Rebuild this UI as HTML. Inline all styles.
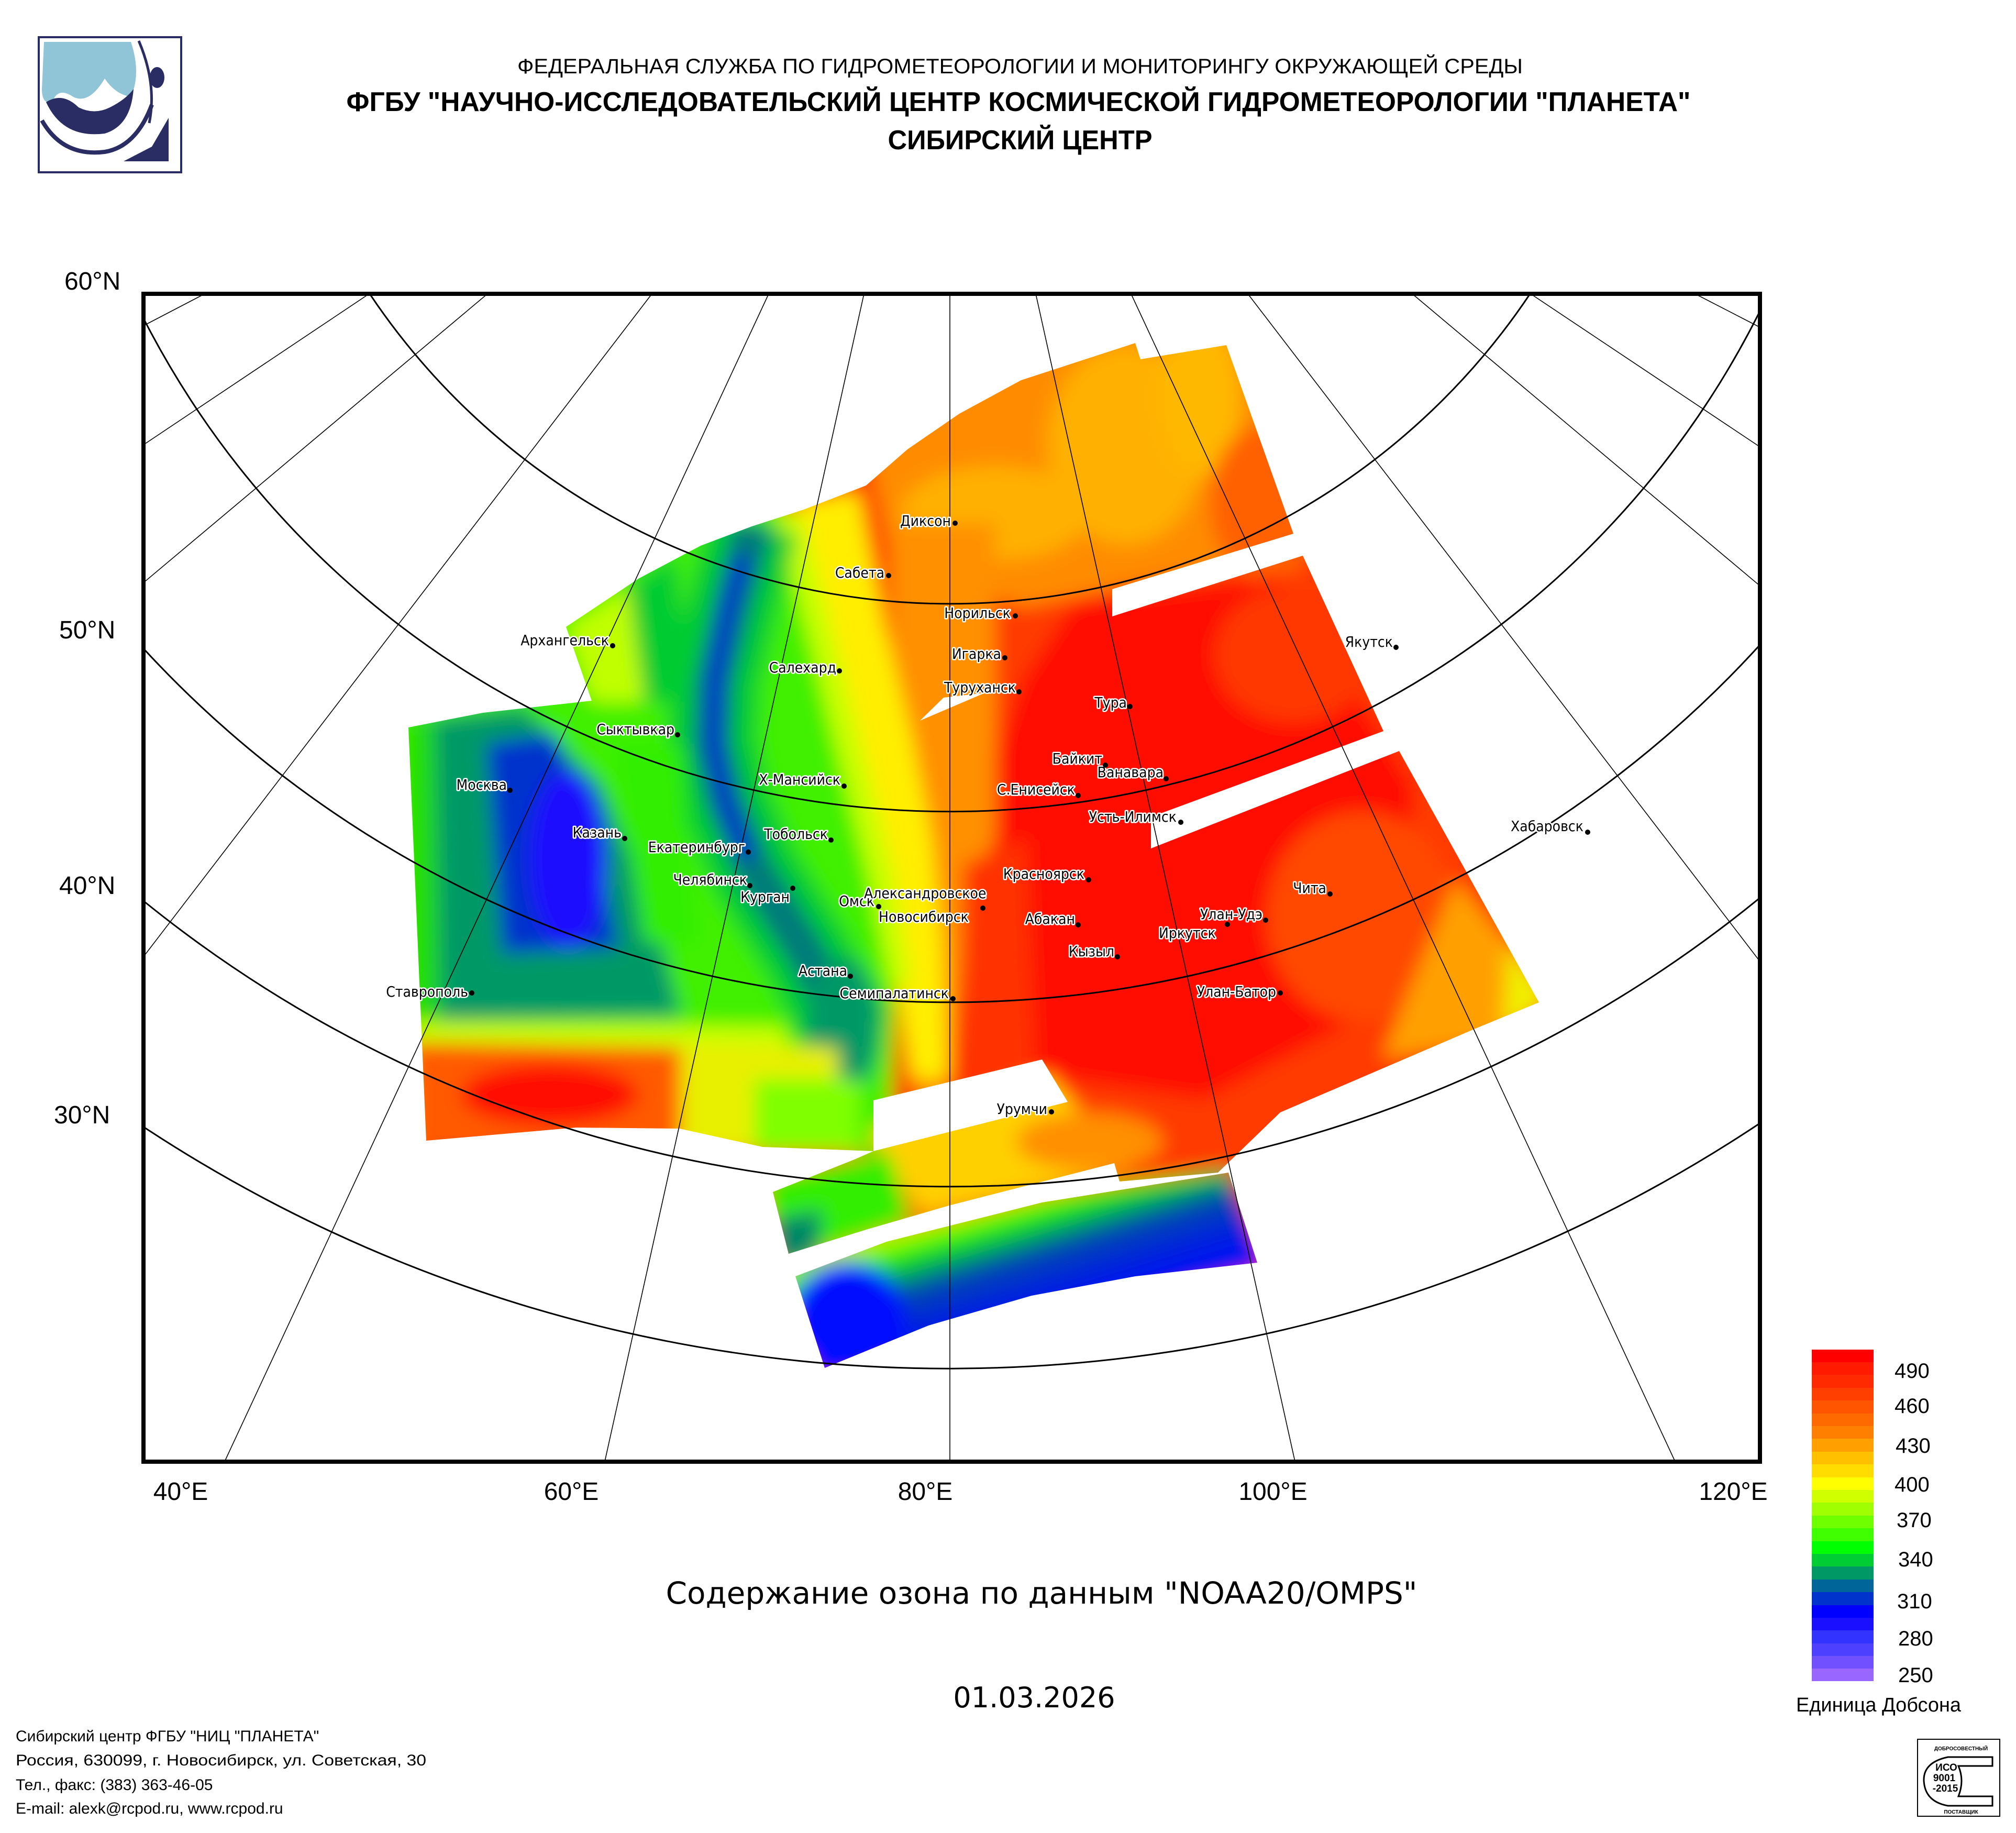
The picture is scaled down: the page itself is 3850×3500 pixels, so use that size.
<!DOCTYPE html>
<html><head><meta charset="utf-8"><style>
html,body{margin:0;padding:0;background:#fff;width:3850px;height:3500px;overflow:hidden;}
svg{display:block;}
.c{font-family:"DejaVu Sans Condensed","DejaVu Sans","Liberation Sans",sans-serif;font-size:28px;fill:#000;stroke:#fff;stroke-width:5px;paint-order:stroke;stroke-linejoin:round;}
.ax{font-family:"Liberation Sans",sans-serif;font-size:48px;fill:#000;}
.cb{font-family:"Liberation Sans",sans-serif;font-size:40px;fill:#000;}
</style></head><body>
<svg width="3850" height="3500" viewBox="0 0 3850 3500" xmlns="http://www.w3.org/2000/svg" overflow="hidden">
<defs>
<clipPath id="frame"><rect x="274" y="561" width="3087" height="2230"/></clipPath>
<clipPath id="sw">
<polygon points="1081,1197 1219,1105 1338,1042 1436,1005 1535,973 1654,927 1733,858 1832,790 1950,726 2168,655 2178,686 2342,659 2470,1019 2124,1125 2124,1500 1130,1500 1130,1338"/>
<polygon points="2124,1177 2488,1061 2642,1396 2198,1560 2124,1560"/>
<polygon points="780,1389 922,1361 1130,1338 2124,1338 2124,1560 2198,1560 2198,1620 2672,1434 2939,1914 2820,1963 2445,2124 2326,2239 2138,2256 2128,2221 1812,2302 1654,2348 1506,2394 1476,2276 1634,2213 1668,2198 1456,2190 1298,2155 1100,2153 814,2178"/>
<polygon points="1519,2437 1693,2371 1990,2296 2346,2239 2401,2411 2168,2437 1970,2474 1773,2531 1575,2612"/>
</clipPath>
<filter id="bl" x="-10%" y="-10%" width="120%" height="120%"><feGaussianBlur stdDeviation="18"/></filter>
<linearGradient id="lg" gradientUnits="userSpaceOnUse" x1="1990" y1="2285" x2="2060" y2="2520">
<stop offset="0" stop-color="#b0ff00"/><stop offset="0.13" stop-color="#20f000"/><stop offset="0.27" stop-color="#00b050"/><stop offset="0.42" stop-color="#0048b0"/><stop offset="0.7" stop-color="#0020e0"/><stop offset="1" stop-color="#0008ff"/>
</linearGradient>
</defs>

<!-- logo -->
<rect x="74" y="71" width="272" height="258" fill="#fff" stroke="#2a2d63" stroke-width="4"/>
<path d="M84,80 L250,80 Q270,140 250,185 Q220,180 200,150 Q170,200 140,185 Q110,165 100,195 Q80,200 80,170 Z" fill="#8fc5d6"/>
<path d="M88,195 Q120,175 150,205 Q180,220 210,205 Q240,190 255,170 Q250,240 200,255 Q120,265 88,195 Z" fill="#2a2d63"/>
<path d="M80,230 Q120,300 200,290 Q260,280 290,200" fill="none" stroke="#2a2d63" stroke-width="8"/>
<path d="M265,78 Q300,160 285,235" fill="none" stroke="#2a2d63" stroke-width="5"/>
<ellipse cx="300" cy="148" rx="14" ry="20" fill="#2a2d63"/>
<polygon points="322,225 322,308 236,308 290,280" fill="#2a2d63"/>

<!-- header -->
<text x="1948" y="140" text-anchor="middle" font-family="Liberation Sans,sans-serif" font-size="40" textLength="1920" lengthAdjust="spacingAndGlyphs">ФЕДЕРАЛЬНАЯ СЛУЖБА ПО ГИДРОМЕТЕОРОЛОГИИ И МОНИТОРИНГУ ОКРУЖАЮЩЕЙ СРЕДЫ</text>
<text x="1945" y="212" text-anchor="middle" font-family="Liberation Sans,sans-serif" font-size="52" font-weight="bold" textLength="2567" lengthAdjust="spacingAndGlyphs">ФГБУ "НАУЧНО-ИССЛЕДОВАТЕЛЬСКИЙ ЦЕНТР КОСМИЧЕСКОЙ ГИДРОМЕТЕОРОЛОГИИ "ПЛАНЕТА"</text>
<text x="1948" y="285" text-anchor="middle" font-family="Liberation Sans,sans-serif" font-size="52" font-weight="bold" textLength="505" lengthAdjust="spacingAndGlyphs">СИБИРСКИЙ ЦЕНТР</text>

<!-- swaths -->
<g clip-path="url(#frame)">
<g clip-path="url(#sw)">
<g filter="url(#bl)">
<rect x="700" y="550" width="2300" height="2100" fill="#ff3a00"/>
<polygon points="1600,600 2500,600 2500,1050 1950,1160 1700,1050" fill="#ff8c00"/>
<ellipse cx="2150" cy="850" rx="150" ry="190" fill="#ffb000"/>
<ellipse cx="2290" cy="760" rx="80" ry="150" fill="#ffb800"/>
<ellipse cx="1900" cy="980" rx="180" ry="90" fill="#ffb000"/>
<ellipse cx="2420" cy="960" rx="110" ry="150" fill="#ff6000"/>
<polygon points="2050,1150 2450,1100 2700,1500 2680,1900 2300,2100 1950,2050 1850,1600 1950,1300" fill="#ff0800"/>
<ellipse cx="2470" cy="1250" rx="150" ry="130" fill="#ff3800"/>
<ellipse cx="2600" cy="1750" rx="180" ry="200" fill="#ff4a00"/>
<polygon points="2780,1680 2960,1900 2840,1990 2640,2020" fill="#ffa000"/>
<polygon points="2880,1800 2960,1910 2870,1975" fill="#f0f000"/>
<polygon points="1700,1000 1900,1000 1900,1600 1850,1700 1800,2200 1760,2200 1700,1600" fill="#ff9000"/>
<polygon points="1840,1650 1960,1600 1980,2120 1830,2120" fill="#ff3000"/>
<polygon points="1520,960 1640,940 1690,1200 1740,1400 1780,1600 1800,1800 1810,2060 1740,2060 1700,1800 1660,1620 1620,1420 1570,1240" fill="#ffee00"/>
<polygon points="700,980 1500,960 1560,1240 1610,1440 1670,1680 1710,1880 1700,2200 700,2200" fill="#40f000"/>
<polygon points="1480,980 1530,980 1600,1240 1650,1440 1710,1680 1740,1880 1700,1880 1660,1680 1600,1440 1550,1240" fill="#c8ff00"/>
<polyline points="1440,1000 1400,1150 1365,1300 1360,1420 1385,1530 1440,1660 1540,1820 1620,1980" fill="none" stroke="#00cc33" stroke-width="170"/>
<polyline points="1440,1000 1400,1150 1365,1300 1360,1420 1385,1530 1440,1660 1540,1820 1620,1980" fill="none" stroke="#007a7a" stroke-width="75"/>
<polyline points="1420,1060 1390,1170 1365,1300 1362,1420 1385,1530 1430,1640" fill="none" stroke="#0033cc" stroke-width="34"/>
<ellipse cx="1610" cy="1960" rx="70" ry="130" fill="#009966"/>
<polygon points="1081,1197 1200,1120 1230,1340 1130,1340" fill="#c0ff00"/>
<polygon points="1200,1120 1290,1060 1320,1340 1230,1340" fill="#00cc33"/>
<polygon points="780,1380 1000,1350 1150,1500 1250,1750 1300,1940 780,1950" fill="#009966"/>
<polygon points="780,1380 830,1380 840,1960 780,1960" fill="#22dd00"/>
<polygon points="930,1420 1060,1400 1140,1600 1180,1810 960,1820" fill="#0033cc"/>
<ellipse cx="1085" cy="1640" rx="75" ry="170" fill="#1a10ff"/>
<polygon points="1170,1420 1300,1420 1330,1800 1230,1800" fill="#33ee00"/>
<polygon points="780,1950 1500,1960 1500,2040 780,2020" fill="#c8ff00"/>
<polygon points="780,1990 1320,2000 1320,2200 780,2200" fill="#ff5a00"/>
<ellipse cx="1050" cy="2090" rx="170" ry="60" fill="#ff1000"/>
<polygon points="1300,1990 1600,2000 1600,2200 1300,2200" fill="#e8f000"/>
<polygon points="1440,2060 1640,2060 1640,2200 1440,2200" fill="#80ff00"/>
<polygon points="1660,2160 2000,2050 2160,2230 1760,2320" fill="#ffd000"/>
<ellipse cx="2080" cy="2180" rx="140" ry="55" fill="#ff9000"/>
<polygon points="1460,2250 1700,2200 1740,2330 1480,2420" fill="#33ee00"/>
<polygon points="1470,2330 1570,2310 1560,2410 1480,2420" fill="#008866"/>
<polygon points="1480,2430 1680,2360 1990,2285 2346,2230 2420,2420 1560,2640" fill="url(#lg)"/>
<ellipse cx="1620" cy="2520" rx="110" ry="110" fill="#0010ff"/>
</g>
</g>
<!-- white holes -->
<polygon points="1668,2101 1990,2023 2039,2104 1668,2198" fill="#fff"/>
<polygon points="1757,1376 1802,1332 1881,1323" fill="#fff"/>

<!-- graticule -->
<g stroke="#000" fill="none">
<path d="M706,561 A1333,1333 0 0 0 2922,561" stroke-width="3"/>
<path d="M270,600 A1730,1730 0 0 0 3365,586" stroke-width="3"/>
<path d="M270,1234 A2094,2094 0 0 0 3365,1227" stroke-width="3"/>
<path d="M270,1717 A2446,2446 0 0 0 3365,1711" stroke-width="3"/>
<path d="M270,2149 A2794,2794 0 0 0 3365,2142" stroke-width="3"/>
<g stroke-width="1.6">
<line x1="1814" y1="561" x2="1814" y2="2795"/>
<line x1="1650" y1="561" x2="1154" y2="2795"/>
<line x1="1978" y1="561" x2="2474" y2="2795"/>
<line x1="1468" y1="561" x2="427" y2="2795"/>
<line x1="2160" y1="561" x2="3201" y2="2795"/>
<line x1="1245" y1="561" x2="270" y2="1832"/>
<line x1="2383" y1="561" x2="3365" y2="1841"/>
<line x1="931" y1="561" x2="270" y2="1116"/>
<line x1="2697" y1="561" x2="3365" y2="1122"/>
<line x1="705" y1="561" x2="270" y2="852"/>
<line x1="2923" y1="561" x2="3365" y2="856"/>
<line x1="391" y1="561" x2="270" y2="624"/>
<line x1="3237" y1="561" x2="3365" y2="627"/>
</g>
</g>

<!-- cities -->
<g class="c" text-anchor="end">
<text x="1816" y="1004">Диксон</text>
<text x="1689" y="1103">Сабета</text>
<text x="1930" y="1180">Норильск</text>
<text x="1912" y="1258">Игарка</text>
<text x="1597" y="1284">Салехард</text>
<text x="1940" y="1322">Туруханск</text>
<text x="2152" y="1351">Тура</text>
<text x="1163" y="1232">Архангельск</text>
<text x="2660" y="1235">Якутск</text>
<text x="1288" y="1402">Сыктывкар</text>
<text x="2105" y="1458">Байкит</text>
<text x="2222" y="1484">Ванавара</text>
<text x="2053" y="1517">С.Енисейск</text>
<text x="1605" y="1498">Х-Мансийск</text>
<text x="2247" y="1569">Усть-Илимск</text>
<text x="968" y="1508">Москва</text>
<text x="1187" y="1599">Казань</text>
<text x="1423" y="1627">Екатеринбург</text>
<text x="1581" y="1602">Тобольск</text>
<text x="3024" y="1587">Хабаровск</text>
<text x="2071" y="1678">Красноярск</text>
<text x="1427" y="1689">Челябинск</text>
<text x="1508" y="1722">Курган</text>
<text x="1670" y="1730">Омск</text>
<text x="2053" y="1764">Абакан</text>
<text x="2411" y="1755">Улан-Удэ</text>
<text x="2533" y="1705">Чита</text>
<text x="2128" y="1826">Кызыл</text>
<text x="1618" y="1863">Астана</text>
<text x="1812" y="1906">Семипалатинск</text>
<text x="2437" y="1903">Улан-Батор</text>
<text x="894" y="1903">Ставрополь</text>
<text x="2000" y="2127">Урумчи</text>
</g>
<g class="c">
<text x="1650" y="1715">Александровское</text>
<text x="1678" y="1760">Новосибирск</text>
<text x="2213" y="1791">Иркутск</text>
</g>
<g fill="#000">
<circle cx="1824" cy="999" r="5"/><circle cx="1697" cy="1099" r="5"/><circle cx="1939" cy="1176" r="5"/>
<circle cx="1919" cy="1256" r="5"/><circle cx="1603" cy="1281" r="5"/><circle cx="1946" cy="1321" r="5"/>
<circle cx="2158" cy="1349" r="5"/><circle cx="1170" cy="1233" r="5"/><circle cx="2666" cy="1236" r="5"/>
<circle cx="1294" cy="1403" r="5"/><circle cx="2111" cy="1461" r="5"/><circle cx="2227" cy="1487" r="5"/>
<circle cx="2059" cy="1519" r="5"/><circle cx="1612" cy="1501" r="5"/><circle cx="2255" cy="1570" r="5"/>
<circle cx="974" cy="1509" r="5"/><circle cx="1193" cy="1601" r="5"/><circle cx="1429" cy="1627" r="5"/>
<circle cx="1587" cy="1604" r="5"/><circle cx="3032" cy="1589" r="5"/><circle cx="2079" cy="1680" r="5"/>
<circle cx="1432" cy="1691" r="5"/><circle cx="1514" cy="1696" r="5"/><circle cx="1678" cy="1731" r="5"/>
<circle cx="1877" cy="1734" r="5"/><circle cx="2059" cy="1766" r="5"/><circle cx="2417" cy="1757" r="5"/>
<circle cx="2540" cy="1707" r="5"/><circle cx="2134" cy="1827" r="5"/><circle cx="1624" cy="1864" r="5"/>
<circle cx="1820" cy="1907" r="5"/><circle cx="2445" cy="1896" r="5"/><circle cx="901" cy="1896" r="5"/>
<circle cx="2344" cy="1765" r="5"/><circle cx="2008" cy="2123" r="5"/>
</g>
</g>
<rect x="274" y="561" width="3087" height="2230" fill="none" stroke="#000" stroke-width="8"/>

<!-- axis labels -->
<g class="ax">
<text x="123" y="553">60°N</text>
<text x="113" y="1219">50°N</text>
<text x="113" y="1707">40°N</text>
<text x="103" y="2145">30°N</text>
<text x="345" y="2864" text-anchor="middle">40°E</text>
<text x="1091" y="2864" text-anchor="middle">60°E</text>
<text x="1767" y="2864" text-anchor="middle">80°E</text>
<text x="2431" y="2864" text-anchor="middle">100°E</text>
<text x="3310" y="2864" text-anchor="middle">120°E</text>
</g>

<!-- colorbar -->
<g>
<rect x="3460" y="2577" width="118" height="25" fill="#ff0000"/>
<rect x="3460" y="2601" width="118" height="25" fill="#ff1a00"/>
<rect x="3460" y="2625" width="118" height="25" fill="#ff2a00"/>
<rect x="3460" y="2650" width="118" height="25" fill="#ff3f00"/>
<rect x="3460" y="2674" width="118" height="25" fill="#ff5500"/>
<rect x="3460" y="2699" width="118" height="25" fill="#ff6a00"/>
<rect x="3460" y="2723" width="118" height="25" fill="#ff8000"/>
<rect x="3460" y="2747" width="118" height="25" fill="#ffa000"/>
<rect x="3460" y="2772" width="118" height="25" fill="#ffc000"/>
<rect x="3460" y="2796" width="118" height="25" fill="#ffdd00"/>
<rect x="3460" y="2821" width="118" height="25" fill="#ffff00"/>
<rect x="3460" y="2845" width="118" height="25" fill="#d0ff00"/>
<rect x="3460" y="2869" width="118" height="25" fill="#a0ff00"/>
<rect x="3460" y="2894" width="118" height="25" fill="#70ff00"/>
<rect x="3460" y="2918" width="118" height="25" fill="#40ff00"/>
<rect x="3460" y="2943" width="118" height="25" fill="#00ff00"/>
<rect x="3460" y="2967" width="118" height="25" fill="#00cc33"/>
<rect x="3460" y="2991" width="118" height="25" fill="#009966"/>
<rect x="3460" y="3016" width="118" height="25" fill="#006699"/>
<rect x="3460" y="3040" width="118" height="25" fill="#0033cc"/>
<rect x="3460" y="3065" width="118" height="25" fill="#0000ff"/>
<rect x="3460" y="3089" width="118" height="25" fill="#1a10ff"/>
<rect x="3460" y="3113" width="118" height="25" fill="#3333ff"/>
<rect x="3460" y="3138" width="118" height="25" fill="#4d40ff"/>
<rect x="3460" y="3162" width="118" height="24" fill="#7050ff"/>
<rect x="3460" y="3186" width="118" height="24" fill="#9966ff"/>
</g>
<g class="cb">
<text x="3618" y="2631">490</text>
<text x="3618" y="2698">460</text>
<text x="3620" y="2774">430</text>
<text x="3618" y="2848">400</text>
<text x="3622" y="2916">370</text>
<text x="3625" y="2991">340</text>
<text x="3623" y="3071">310</text>
<text x="3625" y="3142">280</text>
<text x="3625" y="3212">250</text>
<text x="3430" y="3268" font-size="38" textLength="315" lengthAdjust="spacingAndGlyphs">Единица Добсона</text>
</g>

<!-- titles -->
<text x="1989" y="3062" text-anchor="middle" font-family="DejaVu Sans,Liberation Sans,sans-serif" font-size="58" textLength="1435" lengthAdjust="spacingAndGlyphs">Содержание озона по данным "NOAA20/OMPS"</text>
<text x="1975" y="3260" text-anchor="middle" font-family="DejaVu Sans,Liberation Sans,sans-serif" font-size="54">01.03.2026</text>

<!-- footer -->
<g font-family="Liberation Sans,sans-serif" font-size="30">
<text x="30" y="3325">Сибирский центр ФГБУ "НИЦ "ПЛАНЕТА"</text>
<text x="30" y="3371" textLength="784" lengthAdjust="spacingAndGlyphs">Россия, 630099, г. Новосибирск, ул. Советская, 30</text>
<text x="30" y="3418">Тел., факс: (383) 363-46-05</text>
<text x="30" y="3463">E-mail: alexk@rcpod.ru, www.rcpod.ru</text>
</g>

<!-- ISO -->
<rect x="3662" y="3321" width="157" height="147" fill="#fff" stroke="#000" stroke-width="2"/>
<path d="M3805,3355 L3720,3355 Q3673,3365 3674,3400 Q3676,3440 3720,3448 L3805,3448 L3805,3430 L3740,3430 Q3752,3400 3740,3372 L3805,3372 Z" fill="none" stroke="#000" stroke-width="3"/>
<g font-family="Liberation Sans,sans-serif" font-weight="bold" text-anchor="middle">
<text x="3717" y="3381" font-size="19">ИСО</text>
<text x="3713" y="3401" font-size="19">9001</text>
<text x="3715" y="3421" font-size="19">-2015</text>
<text x="3745" y="3342" font-size="10">ДОБРОСОВЕСТНЫЙ</text>
<text x="3745" y="3463" font-size="10">ПОСТАВЩИК</text>
</g>
</svg>
</body></html>
